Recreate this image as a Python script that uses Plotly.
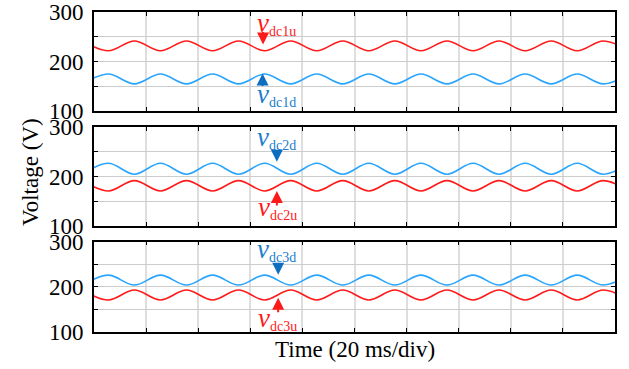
import plotly.graph_objects as go

# Time of successive extrema (ms), 20 ms/div, 10 divisions
t_ext = [-4.5, 5.5, 15.5, 25.5, 35.5, 45.5, 55.5, 65.5, 75.5, 85.5, 95.5,
         105.5, 115.5, 125.5, 135.5, 145.5, 155.5, 165.5, 175.5, 185.5, 195.5, 205.5]

# Values at those extrema (V)
vdc1u = [242, 222] * 11
vdc1d = [155, 175] * 11
vdc2d = [205, 227] * 11
vdc2u = [192, 171] * 11
vdc3d = [204, 226] * 11
vdc3u = [193, 171] * 11

RED = "#ff1a1a"
BLUE = "#2aa5ff"
BLUE_TXT = "#1b7dcc"
BLUE_ARR = "#0e6dbf"
FONT = "Liberation Serif"

fig = go.Figure()
series = [
    (vdc1u, RED, 1), (vdc1d, BLUE, 1),
    (vdc2d, BLUE, 2), (vdc2u, RED, 2),
    (vdc3d, BLUE, 3), (vdc3u, RED, 3),
]
for vals, col, k in series:
    fig.add_trace(go.Scatter(
        x=t_ext, y=vals, mode="lines",
        line=dict(color=col, width=1.6, shape="spline", smoothing=1.0),
        xaxis="x" if k == 1 else f"x{k}", yaxis="y" if k == 1 else f"y{k}",
        showlegend=False, hoverinfo="skip"))

domains = [[0.6906, 0.999], [0.3313, 0.6397], [0.0, 0.2822]]
for k, dom in enumerate(domains, start=1):
    sfx = "" if k == 1 else str(k)
    fig.layout[f"xaxis{sfx}"] = dict(
        domain=[0, 1], range=[0, 200], anchor=f"y{sfx}",
        tickvals=[0, 20, 40, 60, 80, 100, 120, 140, 160, 180, 200],
        showticklabels=False, ticks="inside", ticklen=4, tickwidth=1.2,
        tickcolor="black", showline=True, linecolor="black", linewidth=1.6,
        mirror="ticks", showgrid=True, gridcolor="#dedede", gridwidth=1.6,
        zeroline=False, fixedrange=True, automargin=False)
    fig.layout[f"yaxis{sfx}"] = dict(
        domain=dom, range=[100, 300], anchor=f"x{sfx}",
        tickvals=[100, 150, 200, 250, 300],
        ticktext=["100", "", "200", "", "300"],
        ticks="inside", ticklen=4, tickwidth=1.2, tickcolor="black",
        showline=True, linecolor="black", linewidth=1.6, mirror="ticks",
        showgrid=True, gridcolor="#cccccc", gridwidth=1.2, zeroline=False,
        tickfont=dict(family=FONT, size=23, color="black"),
        ticklabelstandoff=4, fixedrange=True, automargin=False)

def label(main, sub, x, y, col, k):
    sfx = "" if k == 1 else str(k)
    return dict(
        text=f'<span style="font-size:27px"><i>{main}</i></span><sub>{sub}</sub>',
        x=x, y=y, xref=f"x{sfx}", yref=f"y{sfx}", showarrow=False,
        xanchor="center", yanchor="middle",
        font=dict(family=FONT, size=20, color=col))

def arrow(x, y, ay, col, k):
    sfx = "" if k == 1 else str(k)
    return dict(
        text="", x=x, y=y, xref=f"x{sfx}", yref=f"y{sfx}", ax=0, ay=ay,
        showarrow=True, arrowhead=2, arrowsize=1.2, arrowwidth=2,
        arrowcolor=col, standoff=0)

annotations = [
    label("v", "dc1u", 70, 278, RED, 1),
    arrow(64.9, 235, -14, RED, 1),
    label("v", "dc1d", 70, 134, BLUE_TXT, 1),
    arrow(64.7, 176, 14, BLUE_ARR, 1),
    label("v", "dc2d", 70, 279, BLUE_TXT, 2),
    arrow(70.2, 230, -10, BLUE_ARR, 2),
    label("v", "dc2u", 70.5, 138, RED, 2),
    arrow(70.2, 171, 16, RED, 2),
    label("v", "dc3d", 70, 283, BLUE_TXT, 3),
    arrow(70.7, 227, -10, BLUE_ARR, 3),
    label("v", "dc3u", 70.5, 129, RED, 3),
    arrow(70.7, 176, 16, RED, 3),
    dict(text="Voltage (V)", x=-0.123, y=0.5, xref="paper", yref="paper",
         textangle=-90, showarrow=False, xanchor="center", yanchor="middle",
         font=dict(family=FONT, size=23, color="black")),
    dict(text="Time (20 ms/div)", x=0.5, y=-0.056, xref="paper", yref="paper",
         showarrow=False, xanchor="center", yanchor="middle",
         font=dict(family=FONT, size=23, color="black")),
]

fig.update_layout(
    width=629, height=369,
    margin=dict(l=94, r=14, t=12, b=37, autoexpand=False),
    paper_bgcolor="white", plot_bgcolor="white",
    annotations=annotations,
    showlegend=False,
)

fig.write_html("out.html", config={"displayModeBar": False},
               post_script="document.body.style.margin='0px';document.body.style.overflow='hidden';")
